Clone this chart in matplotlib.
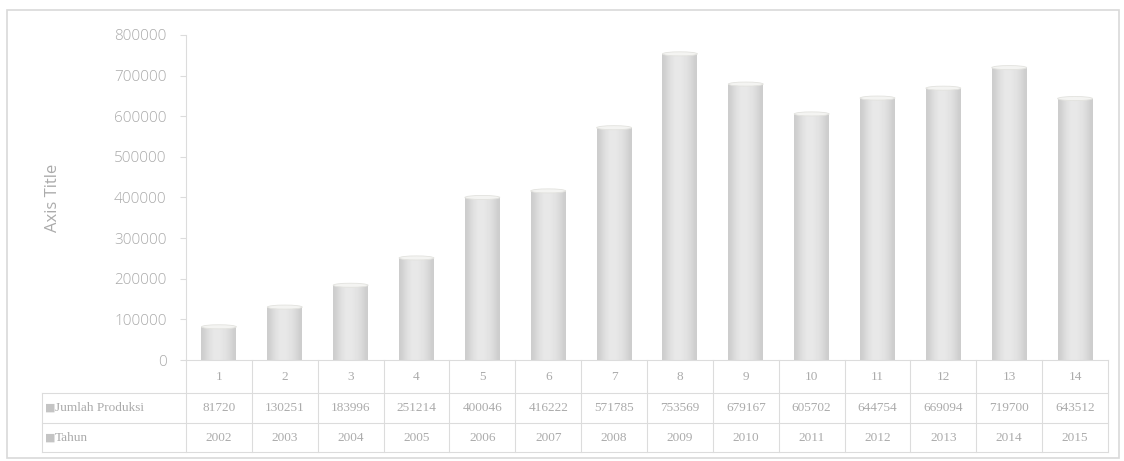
import numpy as np
import matplotlib
matplotlib.use("Agg")
import matplotlib.pyplot as plt
from matplotlib.patches import Ellipse, Rectangle
from matplotlib.transforms import blended_transform_factory

# -----------------------------
# DATA
# -----------------------------
categories = ["1", "2", "3", "4", "5", "6", "7", "8", "9", "10", "11", "12", "13", "14"]
produksi = [81720, 130251, 183996, 251214, 400046, 416222, 571785,
            753569, 679167, 605702, 644754, 669094, 719700, 643512]
tahun = [2002, 2003, 2004, 2005, 2006, 2007, 2008,
         2009, 2010, 2011, 2012, 2013, 2014, 2015]
row_labels = ["Jumlah Produksi", "Tahun"]
y_ticks = [0, 100000, 200000, 300000, 400000, 500000, 600000, 700000, 800000]

TXT = "#ababab"
GRID = "#dcdcdc"

fig = plt.figure(figsize=(11.24, 4.61), dpi=100)
W, H = 1124, 461
ax = fig.add_axes([186 / W, 1 - 360 / H, (1108 - 186) / W, (360 - 35) / H])

x = np.arange(len(categories))
bars = ax.bar(x, produksi, width=0.53, color="none", edgecolor="none", zorder=2)

# cylinder look: soft horizontal gradient clipped to each bar
grad = np.array([[0.80, 0.85, 0.89, 0.91, 0.91, 0.90, 0.88, 0.85, 0.80]])
for b in bars:
    x0, w, h = b.get_x(), b.get_width(), b.get_height()
    im = ax.imshow(grad, cmap="gray", vmin=0, vmax=1, aspect="auto",
                   extent=[x0, x0 + w, 0, h], zorder=2, interpolation="bicubic")
    im.set_clip_path(b)
    ax.add_patch(Ellipse((x0 + w / 2, h), w, 10000, facecolor="#f4f4f2",
                         edgecolor="#e2e2de", lw=0.6, zorder=3))

ax.set_xlim(-0.5, len(categories) - 0.5)
ax.set_ylim(0, 800000)
ax.set_yticks(y_ticks)
ax.set_yticklabels([str(v) for v in y_ticks], color=TXT, fontsize=11,
                   family="Open Sans", fontweight="light")
ax.tick_params(axis="y", length=4, color=GRID, pad=10)
ax.set_xticks([])
for s in ["top", "right"]:
    ax.spines[s].set_visible(False)
ax.spines["left"].set_color(GRID)
ax.spines["bottom"].set_color(GRID)
ax.set_ylabel("Axis Title", color=TXT, fontsize=12, family="Open Sans", labelpad=38)

# -----------------------------
# data table under the axis
# -----------------------------
tr = blended_transform_factory(ax.transData, ax.transAxes)
ppx = 1 / (360 - 35)               # one pixel in axes fraction
r0, r1, r2, r3 = 0, -33 * ppx, -63 * ppx, -92 * ppx
left_x = -0.5 - (186 - 42) / ((1108 - 186) / len(categories))
right_x = len(categories) - 0.5

kw = dict(transform=tr, color=GRID, lw=0.8, clip_on=False)
ax.plot([-0.5, -0.5], [r0, r3], **kw)
for i in range(len(categories)):
    ax.plot([i + 0.5, i + 0.5], [r0, r3], **kw)
ax.plot([left_x, right_x], [r1, r1], **kw)
ax.plot([left_x, right_x], [r2, r2], **kw)
ax.plot([left_x, right_x], [r3, r3], **kw)
ax.plot([left_x, left_x], [r1, r3], **kw)

tkw = dict(transform=tr, color=TXT, ha="center", va="center",
           family="Liberation Serif", fontsize=9.5, clip_on=False)
for i, c in enumerate(categories):
    ax.text(i, (r0 + r1) / 2, c, **tkw)
    ax.text(i, (r1 + r2) / 2, str(produksi[i]), **tkw)
    ax.text(i, (r2 + r3) / 2, str(tahun[i]), **tkw)

for lab, (ya, yb) in zip(row_labels, [(r1, r2), (r2, r3)]):
    ax.text(left_x + 0.05, (ya + yb) / 2, "\u25a0", transform=tr, color="#c4c4c4",
            ha="left", va="center", fontsize=8, clip_on=False, family="DejaVu Sans")
    ax.text(left_x + 0.2, (ya + yb) / 2, lab, transform=tr, color=TXT, ha="left",
            va="center", family="Liberation Serif", fontsize=9.5, clip_on=False)

# outer chart frame
fig.patches.append(Rectangle((7 / W, 1 - 458 / H), (1119 - 7) / W, (458 - 10) / H,
                             transform=fig.transFigure, fill=False,
                             edgecolor="#d9d9d9", lw=1.2))

fig.savefig("out.png", dpi=100)
